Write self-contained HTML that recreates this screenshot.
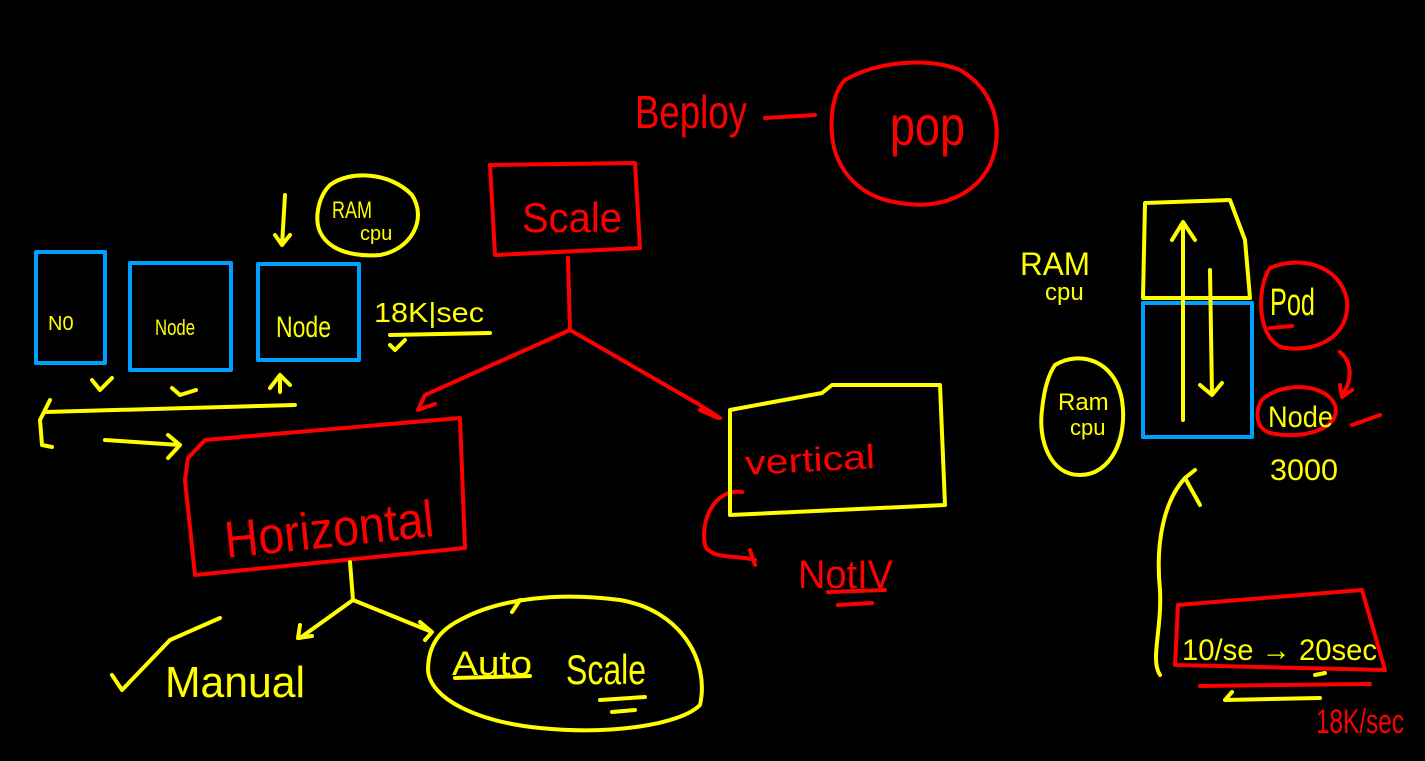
<!DOCTYPE html>
<html><head><meta charset="utf-8"><style>
html,body{margin:0;padding:0;background:#000;width:1425px;height:761px;overflow:hidden}
svg{display:block}
text{font-family:"Liberation Sans",sans-serif}
</style></head><body>
<svg width="1425" height="761" viewBox="0 0 1425 761" xmlns="http://www.w3.org/2000/svg">
<rect width="1425" height="761" fill="#000"/>
<g fill="none" stroke-linecap="round" stroke-linejoin="round" stroke-width="4">
<g stroke="#ff0000">
<path d="M765,118 L815,115"/>
<path d="M845,80 C880,60 930,58 960,70 C995,90 1005,130 990,165 C975,195 940,210 900,203 C860,198 835,170 832,135 C830,110 835,90 845,80Z"/>
<path d="M490,165 L635,163 L640,248 L495,255 Z"/>
<path d="M568,258 L570,330 L425,395 M425,395 L418,410 L435,404 M570,330 L700,405 L720,418 M700,410 L718,418"/>
<path d="M188,458 L205,440 L460,418 L465,548 L195,575 L185,480 Z"/>
<path d="M742,492 C715,488 700,520 705,545 C710,560 740,555 755,560 M750,550 L755,565"/>
<path d="M838,605 L872,603 M828,592 L885,590"/>
<path d="M1270,268 C1300,255 1340,265 1347,300 C1350,335 1320,352 1285,348 C1258,343 1255,290 1270,268Z"/>
<path d="M1340,352 C1355,365 1350,385 1342,395 M1340,385 L1342,397 L1352,390"/>
<path d="M1262,400 C1280,382 1325,382 1335,405 C1342,430 1300,440 1270,433 C1255,428 1255,410 1262,400Z"/>
<path d="M1352,425 L1380,415"/>
<path d="M1178,605 L1362,590 L1385,670 L1175,665 Z"/>
<path d="M1200,686 L1370,684"/>
<path d="M1270,328 L1292,326"/>
</g>
<g stroke="#00a0ff">
<rect x="36" y="252" width="69" height="111"/>
<rect x="130" y="263" width="101" height="107"/>
<rect x="258" y="264" width="101" height="96"/>
<rect x="1143" y="303" width="109" height="134"/>
</g>
<g stroke="#ffff00">
<path d="M285,195 L282,245 L275,235 M282,245 L290,235"/>
<path d="M330,185 C350,170 390,172 412,195 C428,220 410,250 380,255 C345,258 312,245 318,210 C320,198 325,190 330,185Z"/>
<path d="M390,335 L490,333 M390,345 L395,350 L405,340"/>
<path d="M50,400 L40,420 L42,445 L52,447 M45,412 L295,405"/>
<path d="M105,440 L180,445 M168,435 L180,445 L168,458"/>
<path d="M92,380 L100,390 L112,378 M172,388 L180,395 L196,390 M270,388 L280,375 L290,385 M280,375 L280,392"/>
<path d="M730,410 L822,393 L832,385 L940,385 L945,505 L730,515 Z"/>
<path d="M350,562 L353,600 L300,638 M300,625 L298,638 L312,636 M353,600 L432,632 M420,622 L432,632 L425,640"/>
<path d="M112,675 L122,690 L170,640 L220,618"/>
<path d="M460,620 C500,598 560,592 620,600 C680,610 710,660 700,705 C680,725 610,735 540,728 C480,722 430,700 428,670 C428,645 440,630 460,620Z"/>
<path d="M512,612 L520,600 M455,678 L530,676 M600,700 L645,697 M612,712 L635,710"/>
<path d="M1145,203 L1230,200 L1245,240 L1250,298 L1143,298 Z"/>
<path d="M1183,420 L1183,222 L1172,240 M1183,222 L1195,240 M1210,270 L1212,395 L1200,385 M1212,395 L1222,383"/>
<path d="M1055,365 C1080,350 1115,360 1122,400 C1128,440 1110,475 1080,475 C1050,475 1038,440 1042,410 C1044,390 1048,375 1055,365Z"/>
<path d="M1195,470 L1185,478 L1200,505 M1185,478 C1165,500 1155,540 1160,590 C1162,630 1150,660 1160,675"/>
<path d="M1225,700 L1232,692 M1225,700 L1320,698"/>
<path d="M1315,675 L1325,673"/>
</g>
</g>
<g>
<text x="635" y="128" fill="#ff0000" font-size="46" textLength="112" lengthAdjust="spacingAndGlyphs">Beploy</text>
<text x="890" y="145" fill="#ff0000" font-size="56" textLength="75" lengthAdjust="spacingAndGlyphs">pop</text>
<text x="522" y="232" fill="#ff0000" font-size="42" textLength="100" lengthAdjust="spacingAndGlyphs">Scale</text>
<text x="222" y="548" fill="#ff0000" font-size="52" textLength="210" lengthAdjust="spacingAndGlyphs" transform="rotate(-6 320 510)">Horizontal</text>
<text x="745" y="472" fill="#ff0000" font-size="34" textLength="130" lengthAdjust="spacingAndGlyphs" transform="rotate(-3 800 460)">vertical</text>
<text x="798" y="588" fill="#ff0000" font-size="40" textLength="95" lengthAdjust="spacingAndGlyphs">NotIV</text>
<text x="48" y="330" fill="#ffff00" font-size="20">N0</text>
<text x="155" y="335" fill="#ffff00" font-size="22" textLength="40" lengthAdjust="spacingAndGlyphs">Node</text>
<text x="276" y="337" fill="#ffff00" font-size="30" textLength="55" lengthAdjust="spacingAndGlyphs">Node</text>
<text x="332" y="218" fill="#ffff00" font-size="24" textLength="40" lengthAdjust="spacingAndGlyphs">RAM</text>
<text x="360" y="240" fill="#ffff00" font-size="20">cpu</text>
<text x="374" y="322" fill="#ffff00" font-size="28" textLength="110" lengthAdjust="spacingAndGlyphs">18K|sec</text>
<text x="165" y="697" fill="#ffff00" font-size="44" textLength="140" lengthAdjust="spacingAndGlyphs">Manual</text>
<text x="452" y="675" fill="#ffff00" font-size="34" textLength="80" lengthAdjust="spacingAndGlyphs">Auto</text>
<text x="566" y="684" fill="#ffff00" font-size="42" textLength="80" lengthAdjust="spacingAndGlyphs">Scale</text>
<text x="1020" y="275" fill="#ffff00" font-size="32" textLength="70" lengthAdjust="spacingAndGlyphs">RAM</text>
<text x="1045" y="300" fill="#ffff00" font-size="24">cpu</text>
<text x="1058" y="410" fill="#ffff00" font-size="24">Ram</text>
<text x="1070" y="435" fill="#ffff00" font-size="22">cpu</text>
<text x="1270" y="315" fill="#ffff00" font-size="38" textLength="45" lengthAdjust="spacingAndGlyphs">Pod</text>
<text x="1268" y="427" fill="#ffff00" font-size="30" textLength="65" lengthAdjust="spacingAndGlyphs">Node</text>
<text x="1270" y="480" fill="#ffff00" font-size="30" textLength="68" lengthAdjust="spacingAndGlyphs">3000</text>
<text x="1182" y="660" fill="#ffff00" font-size="30" textLength="195" lengthAdjust="spacingAndGlyphs">10/se → 20sec</text>
<text x="1316" y="733" fill="#ff0000" font-size="34" textLength="88" lengthAdjust="spacingAndGlyphs">18K/sec</text>
</g>
</svg>
</body></html>
